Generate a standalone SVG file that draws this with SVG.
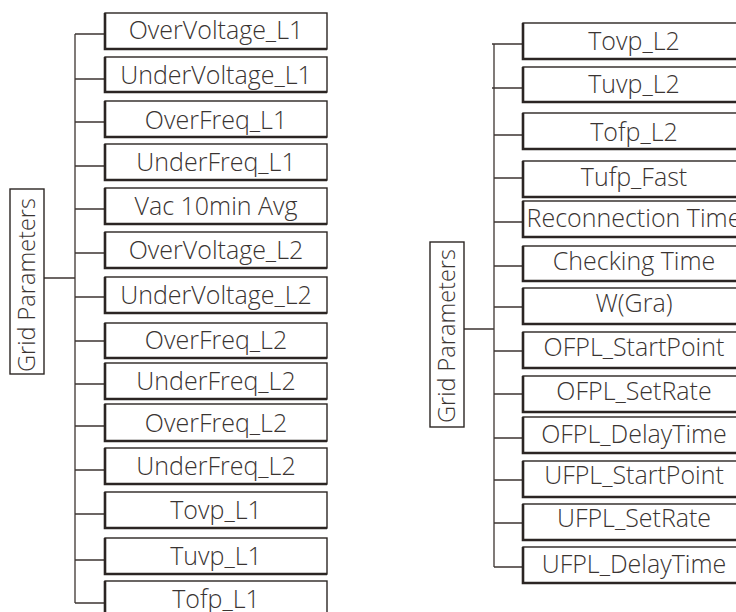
<svg xmlns="http://www.w3.org/2000/svg" width="736" height="612" viewBox="0 0 736 612">
<style>
.bx{fill:#fff;stroke:#2b2523;stroke-width:1.4}
.sh{fill:none;stroke:#2b2523;stroke-width:2.6}
.t{font-family:"Open Sans","Liberation Sans",sans-serif;font-weight:300;font-size:25px;fill:#3a3432;text-anchor:middle}
.g{font-size:23.5px}
.c{fill:none;stroke:#3d3532;stroke-width:1.3}
</style>
<rect width="736" height="612" fill="#fff"/>
<g id="connectors">
<path class="c" d="M75,34V603M75,34H105M75,79H105M75,122H105M75,166H105M75,209H105M75,253H105M75,297H105M75,341H105M75,384H105M75,426H105M75,470H105M75,514H105M75,560H105M75,603H105M44,278H75"/>
<path class="c" d="M494,44V567M492,44H523M492,88H523M494,135H523M494,178H523M494,222H523M494,266H523M494,307H523M494,351H523M494,394H523M494,438H523M494,480H523M494,523H523M494,567H523M464,329H494"/>
</g>
<g id="root-left"><rect class="bx" x="10" y="189" width="34" height="185"/><text class="t g" transform="translate(35,285) rotate(-90)">Grid Parameters</text></g>
<g id="root-right"><rect class="bx" x="430" y="242" width="34" height="185"/><text class="t g" transform="translate(455,336) rotate(-90)">Grid Parameters</text></g>
<g id="L1"><rect class="bx" x="105" y="13" width="222" height="36"/><path class="sh" d="M105,13V49H327"/><text class="t" x="216" y="39">OverVoltage_L1</text></g>
<g id="L2"><rect class="bx" x="105" y="57" width="222" height="35"/><path class="sh" d="M105,57V92H327"/><text class="t" x="216" y="84">UnderVoltage_L1</text></g>
<g id="L3"><rect class="bx" x="105" y="101" width="222" height="36"/><path class="sh" d="M105,101V137H327"/><text class="t" x="216" y="129">OverFreq_L1</text></g>
<g id="L4"><rect class="bx" x="105" y="144" width="222" height="36"/><path class="sh" d="M105,144V180H327"/><text class="t" x="216" y="171">UnderFreq_L1</text></g>
<g id="L5"><rect class="bx" x="105" y="188" width="222" height="36"/><path class="sh" d="M105,188V224H327"/><text class="t" x="216" y="215">Vac 10min Avg</text></g>
<g id="L6"><rect class="bx" x="105" y="232" width="222" height="36"/><path class="sh" d="M105,232V268H327"/><text class="t" x="216" y="259">OverVoltage_L2</text></g>
<g id="L7"><rect class="bx" x="105" y="277" width="222" height="36"/><path class="sh" d="M105,277V313H327"/><text class="t" x="216" y="304">UnderVoltage_L2</text></g>
<g id="L8"><rect class="bx" x="105" y="323" width="222" height="35"/><path class="sh" d="M105,323V358H327"/><text class="t" x="216" y="349">OverFreq_L2</text></g>
<g id="L9"><rect class="bx" x="105" y="363" width="222" height="36"/><path class="sh" d="M105,363V399H327"/><text class="t" x="216" y="390">UnderFreq_L2</text></g>
<g id="L10"><rect class="bx" x="105" y="404" width="222" height="37"/><path class="sh" d="M105,404V441H327"/><text class="t" x="216" y="432">OverFreq_L2</text></g>
<g id="L11"><rect class="bx" x="105" y="448" width="222" height="36"/><path class="sh" d="M105,448V484H327"/><text class="t" x="216" y="475">UnderFreq_L2</text></g>
<g id="L12"><rect class="bx" x="105" y="492" width="222" height="36"/><path class="sh" d="M105,492V528H327"/><text class="t" x="216" y="519">Tovp_L1</text></g>
<g id="L13"><rect class="bx" x="105" y="538" width="222" height="36"/><path class="sh" d="M105,538V574H327"/><text class="t" x="216" y="565">Tuvp_L1</text></g>
<g id="L14"><rect class="bx" x="105" y="581" width="222" height="36"/><path class="sh" d="M105,581V617H327"/><text class="t" x="216" y="608">Tofp_L1</text></g>
<g id="R1"><rect class="bx" x="523" y="23" width="222" height="36"/><path class="sh" d="M523,23V59H745"/><text class="t" x="634" y="50">Tovp_L2</text></g>
<g id="R2"><rect class="bx" x="523" y="67" width="222" height="35"/><path class="sh" d="M523,67V102H745"/><text class="t" x="634" y="93">Tuvp_L2</text></g>
<g id="R3"><rect class="bx" x="523" y="113" width="222" height="36"/><path class="sh" d="M523,113V149H745"/><text class="t" x="634" y="141">Tofp_L2</text></g>
<g id="R4"><rect class="bx" x="523" y="161" width="222" height="36"/><path class="sh" d="M523,161V197H745"/><text class="t" x="634" y="186">Tufp_Fast</text></g>
<g id="R5"><rect class="bx" x="523" y="201" width="222" height="36"/><path class="sh" d="M523,201V237H745"/><text class="t" x="634" y="227">Reconnection Time</text></g>
<g id="R6"><rect class="bx" x="523" y="246" width="222" height="35"/><path class="sh" d="M523,246V281H745"/><text class="t" x="634" y="270">Checking Time</text></g>
<g id="R7"><rect class="bx" x="523" y="288" width="222" height="36"/><path class="sh" d="M523,288V324H745"/><text class="t" x="634" y="312">W(Gra)</text></g>
<g id="R8"><rect class="bx" x="523" y="332" width="222" height="36"/><path class="sh" d="M523,332V368H745"/><text class="t" x="634" y="356">OFPL_StartPoint</text></g>
<g id="R9"><rect class="bx" x="523" y="376" width="222" height="36"/><path class="sh" d="M523,376V412H745"/><text class="t" x="634" y="400">OFPL_SetRate</text></g>
<g id="R10"><rect class="bx" x="523" y="417" width="222" height="36"/><path class="sh" d="M523,417V453H745"/><text class="t" x="634" y="443">OFPL_DelayTime</text></g>
<g id="R11"><rect class="bx" x="523" y="461" width="222" height="36"/><path class="sh" d="M523,461V497H745"/><text class="t" x="634" y="484">UFPL_StartPoint</text></g>
<g id="R12"><rect class="bx" x="523" y="504" width="222" height="36"/><path class="sh" d="M523,504V540H745"/><text class="t" x="634" y="527">UFPL_SetRate</text></g>
<g id="R13"><rect class="bx" x="523" y="547" width="222" height="36"/><path class="sh" d="M523,547V583H745"/><text class="t" x="634" y="573">UFPL_DelayTime</text></g>
</svg>
